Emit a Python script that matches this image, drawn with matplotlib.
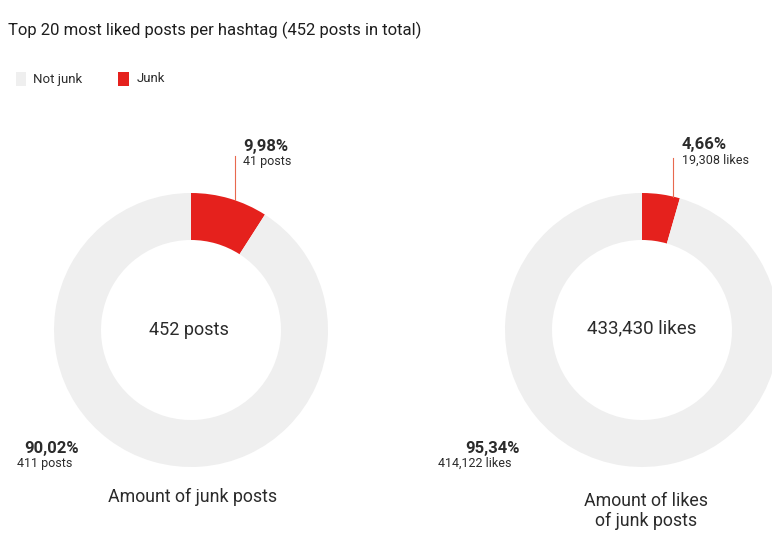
import matplotlib
matplotlib.use("Agg")
import matplotlib.pyplot as plt
from matplotlib.patches import Rectangle

plt.rcParams["font.family"] = ["Roboto", "DejaVu Sans"]

# data
categories = ["Junk", "Not junk"]
posts = [41, 411]
likes = [19308, 414122]
posts_pct = ["9,98%", "90,02%"]
likes_pct = ["4,66%", "95,34%"]
posts_lbl = ["41 posts", "411 posts"]
likes_lbl = ["19,308 likes", "414,122 likes"]
colors = ["#e5211d", "#efefef"]

W, H = 772, 533
fig = plt.figure(figsize=(W / 100, H / 100), dpi=100)
ax = fig.add_axes([0, 0, 1, 1])

R, RING = 137, 47
centers = [(191, H - 330), (642, H - 330)]

for (cx, cy), vals in zip(centers, [posts, likes]):
    ax.pie(vals, colors=colors, startangle=90, counterclock=False,
           center=(cx, cy), radius=R, frame=True,
           wedgeprops=dict(width=RING, linewidth=0))

ax.set_xlim(0, W)
ax.set_ylim(0, H)
ax.set_aspect("equal")
ax.axis("off")

txt = "#2b2b2b"
ax.text(8, H - 30, "Top 20 most liked posts per hashtag (452 posts in total)",
        fontsize=12, color="#1e1e1e", va="center", ha="left")

# legend
ax.add_patch(Rectangle((16, H - 86), 10, 14, color=colors[1], lw=0))
ax.text(33, H - 79, categories[1], fontsize=9.5, color=txt, va="center")
ax.add_patch(Rectangle((118, H - 86), 11, 14, color=colors[0], lw=0))
ax.text(137, H - 79, categories[0], fontsize=9.5, color=txt, va="center")

# leader lines
ax.plot([235, 235], [H - 156, H - 200], color="#e8694e", lw=0.8)
ax.plot([673, 673], [H - 158, H - 197], color="#e8694e", lw=0.8)

pct_fs, sub_fs = 12, 9

# annotations, left donut
ax.text(243, H - 146, posts_pct[0], fontsize=pct_fs, fontweight="bold", color=txt, va="center")
ax.text(243, H - 161, posts_lbl[0], fontsize=sub_fs, color=txt, va="center")
ax.text(24, H - 449, posts_pct[1], fontsize=pct_fs, fontweight="bold", color=txt, va="center")
ax.text(17, H - 464, posts_lbl[1], fontsize=sub_fs, color=txt, va="center")
ax.text(189, H - 330, "452 posts", fontsize=13, color=txt, ha="center", va="center")
ax.text(193, H - 497, "Amount of junk posts", fontsize=12.8, color=txt, ha="center", va="center")

# annotations, right donut
ax.text(682, H - 145, likes_pct[0], fontsize=pct_fs, fontweight="bold", color=txt, va="center")
ax.text(682, H - 160, likes_lbl[0], fontsize=sub_fs, color=txt, va="center")
ax.text(520, H - 448, likes_pct[1], fontsize=pct_fs, fontweight="bold", color=txt, ha="right", va="center")
ax.text(512, H - 463, likes_lbl[1], fontsize=sub_fs, color=txt, ha="right", va="center")
ax.text(642, H - 328, "433,430 likes", fontsize=13.5, color=txt, ha="center", va="center")
ax.text(646, H - 501, "Amount of likes", fontsize=12.8, color=txt, ha="center", va="center")
ax.text(646, H - 521, "of junk posts", fontsize=12.8, color=txt, ha="center", va="center")

fig.savefig("out.png", dpi=100, facecolor="white")
